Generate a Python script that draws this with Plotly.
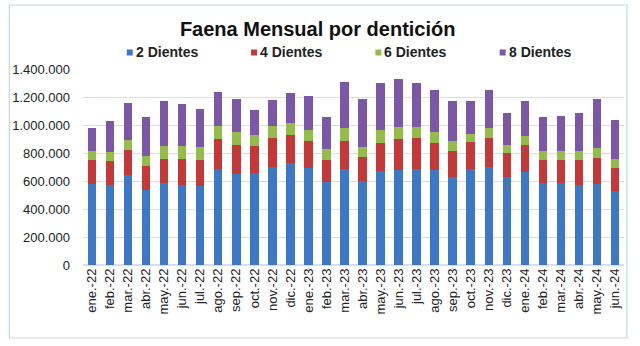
import plotly.graph_objects as go

months = ["ene.-22", "feb.-22", "mar.-22", "abr.-22", "may.-22", "jun.-22", "jul.-22", "ago.-22",
          "sep.-22", "oct.-22", "nov.-22", "dic.-22", "ene.-23", "feb.-23", "mar.-23", "abr.-23",
          "may.-23", "jun.-23", "jul.-23", "ago.-23", "sep.-23", "oct.-23", "nov.-23", "dic.-23",
          "ene.-24", "feb.-24", "mar.-24", "abr.-24", "may.-24", "jun.-24"]

dientes2 = [579000, 571000, 643000, 536000, 586000, 571000, 564000, 686000, 650000, 657000,
            700000, 729000, 693000, 593000, 686000, 600000, 671000, 679000, 686000, 679000,
            629000, 686000, 700000, 629000, 664000, 586000, 586000, 571000, 579000, 529000]
dientes4 = [171000, 172000, 178000, 171000, 171000, 186000, 186000, 214000, 207000, 193000,
            207000, 200000, 193000, 157000, 200000, 171000, 200000, 221000, 221000, 192000,
            185000, 193000, 207000, 171000, 193000, 164000, 164000, 179000, 185000, 164000]
dientes6 = [67000, 64000, 72000, 72000, 93000, 93000, 93000, 93000, 93000, 79000,
            86000, 85000, 78000, 79000, 93000, 72000, 93000, 86000, 79000, 79000,
            72000, 57000, 72000, 57000, 64000, 64000, 64000, 64000, 72000, 64000]
dientes8 = [159000, 219000, 262000, 276000, 319000, 298000, 269000, 240000, 233000, 176000,
            183000, 212000, 241000, 226000, 326000, 340000, 334000, 340000, 312000, 298000,
            283000, 233000, 269000, 226000, 248000, 241000, 248000, 269000, 347000, 276000]

series_names = ["2 Dientes", "4 Dientes", "6 Dientes", "8 Dientes"]
series_values = [dientes2, dientes4, dientes6, dientes8]
colors = ["#3C78C6", "#C4383A", "#94BC48", "#7C57A8"]

tick_vals = [0, 200000, 400000, 600000, 800000, 1000000, 1200000, 1400000]
tick_text = ["0", "200.000", "400.000", "600.000", "800.000", "1.000.000", "1.200.000", "1.400.000"]

W, H = 640, 346
ML, MR, MT, MB = 80, 16, 69, 81
PW, PH = W - ML - MR, H - MT - MB


def px_x(p):
    return (p - ML) / PW


def px_y(p):
    return (H - MB - p) / PH


fig = go.Figure()
for name, vals, col in zip(series_names, series_values, colors):
    fig.add_trace(go.Bar(x=months, y=vals, name=name, showlegend=False,
                         marker=dict(color=col, line=dict(width=0))))

font = "Liberation Sans, Arial, sans-serif"

# legend drawn as small squares + bold labels (matches the reference style)
legend_x = [124, 249, 374, 499]
shapes = []
annotations = []
for name, col, lx in zip(series_names, colors, legend_x):
    shapes.append(dict(type="rect", xref="paper", yref="paper",
                       x0=px_x(lx), x1=px_x(lx + 6), y0=px_y(55.5), y1=px_y(49.5),
                       fillcolor=col, line=dict(width=0)))
    annotations.append(dict(text="<b>" + name + "</b>", xref="paper", yref="paper",
                            x=px_x(lx + 7), y=px_y(52), xanchor="left", yanchor="middle",
                            showarrow=False, font=dict(size=14, color="#222222")))

shapes.append(dict(type="rect", xref="paper", yref="paper", x0=px_x(6), x1=px_x(627),
                   y0=px_y(338), y1=px_y(5), line=dict(color="#C8D5E3", width=1.2),
                   fillcolor="rgba(0,0,0,0)", layer="below"))

fig.update_layout(
    barmode="stack",
    bargap=0.53,
    width=W, height=H,
    margin=dict(l=ML, r=MR, t=MT, b=MB),
    paper_bgcolor="white", plot_bgcolor="white",
    font=dict(family=font, size=13, color="#222222"),
    title=dict(text="<b>Faena Mensual por dentición</b>", x=px_x(316), xanchor="center",
               xref="paper", y=1 - 29 / H, yanchor="middle",
               font=dict(size=20, color="#111111")),
    showlegend=False,
    xaxis=dict(tickangle=-90, tickfont=dict(size=13, color="#222222"), showgrid=False,
               showline=False, ticks=""),
    yaxis=dict(range=[0, 1400000], tickvals=tick_vals, ticktext=tick_text,
               showgrid=True, gridcolor="#D6E0EC", gridwidth=1, zeroline=True,
               zerolinecolor="#D6E0EC", tickfont=dict(size=13, color="#222222"),
               ticks="", ticklabelstandoff=12),
    shapes=shapes,
    annotations=annotations,
)

fig.write_html("out.html")
